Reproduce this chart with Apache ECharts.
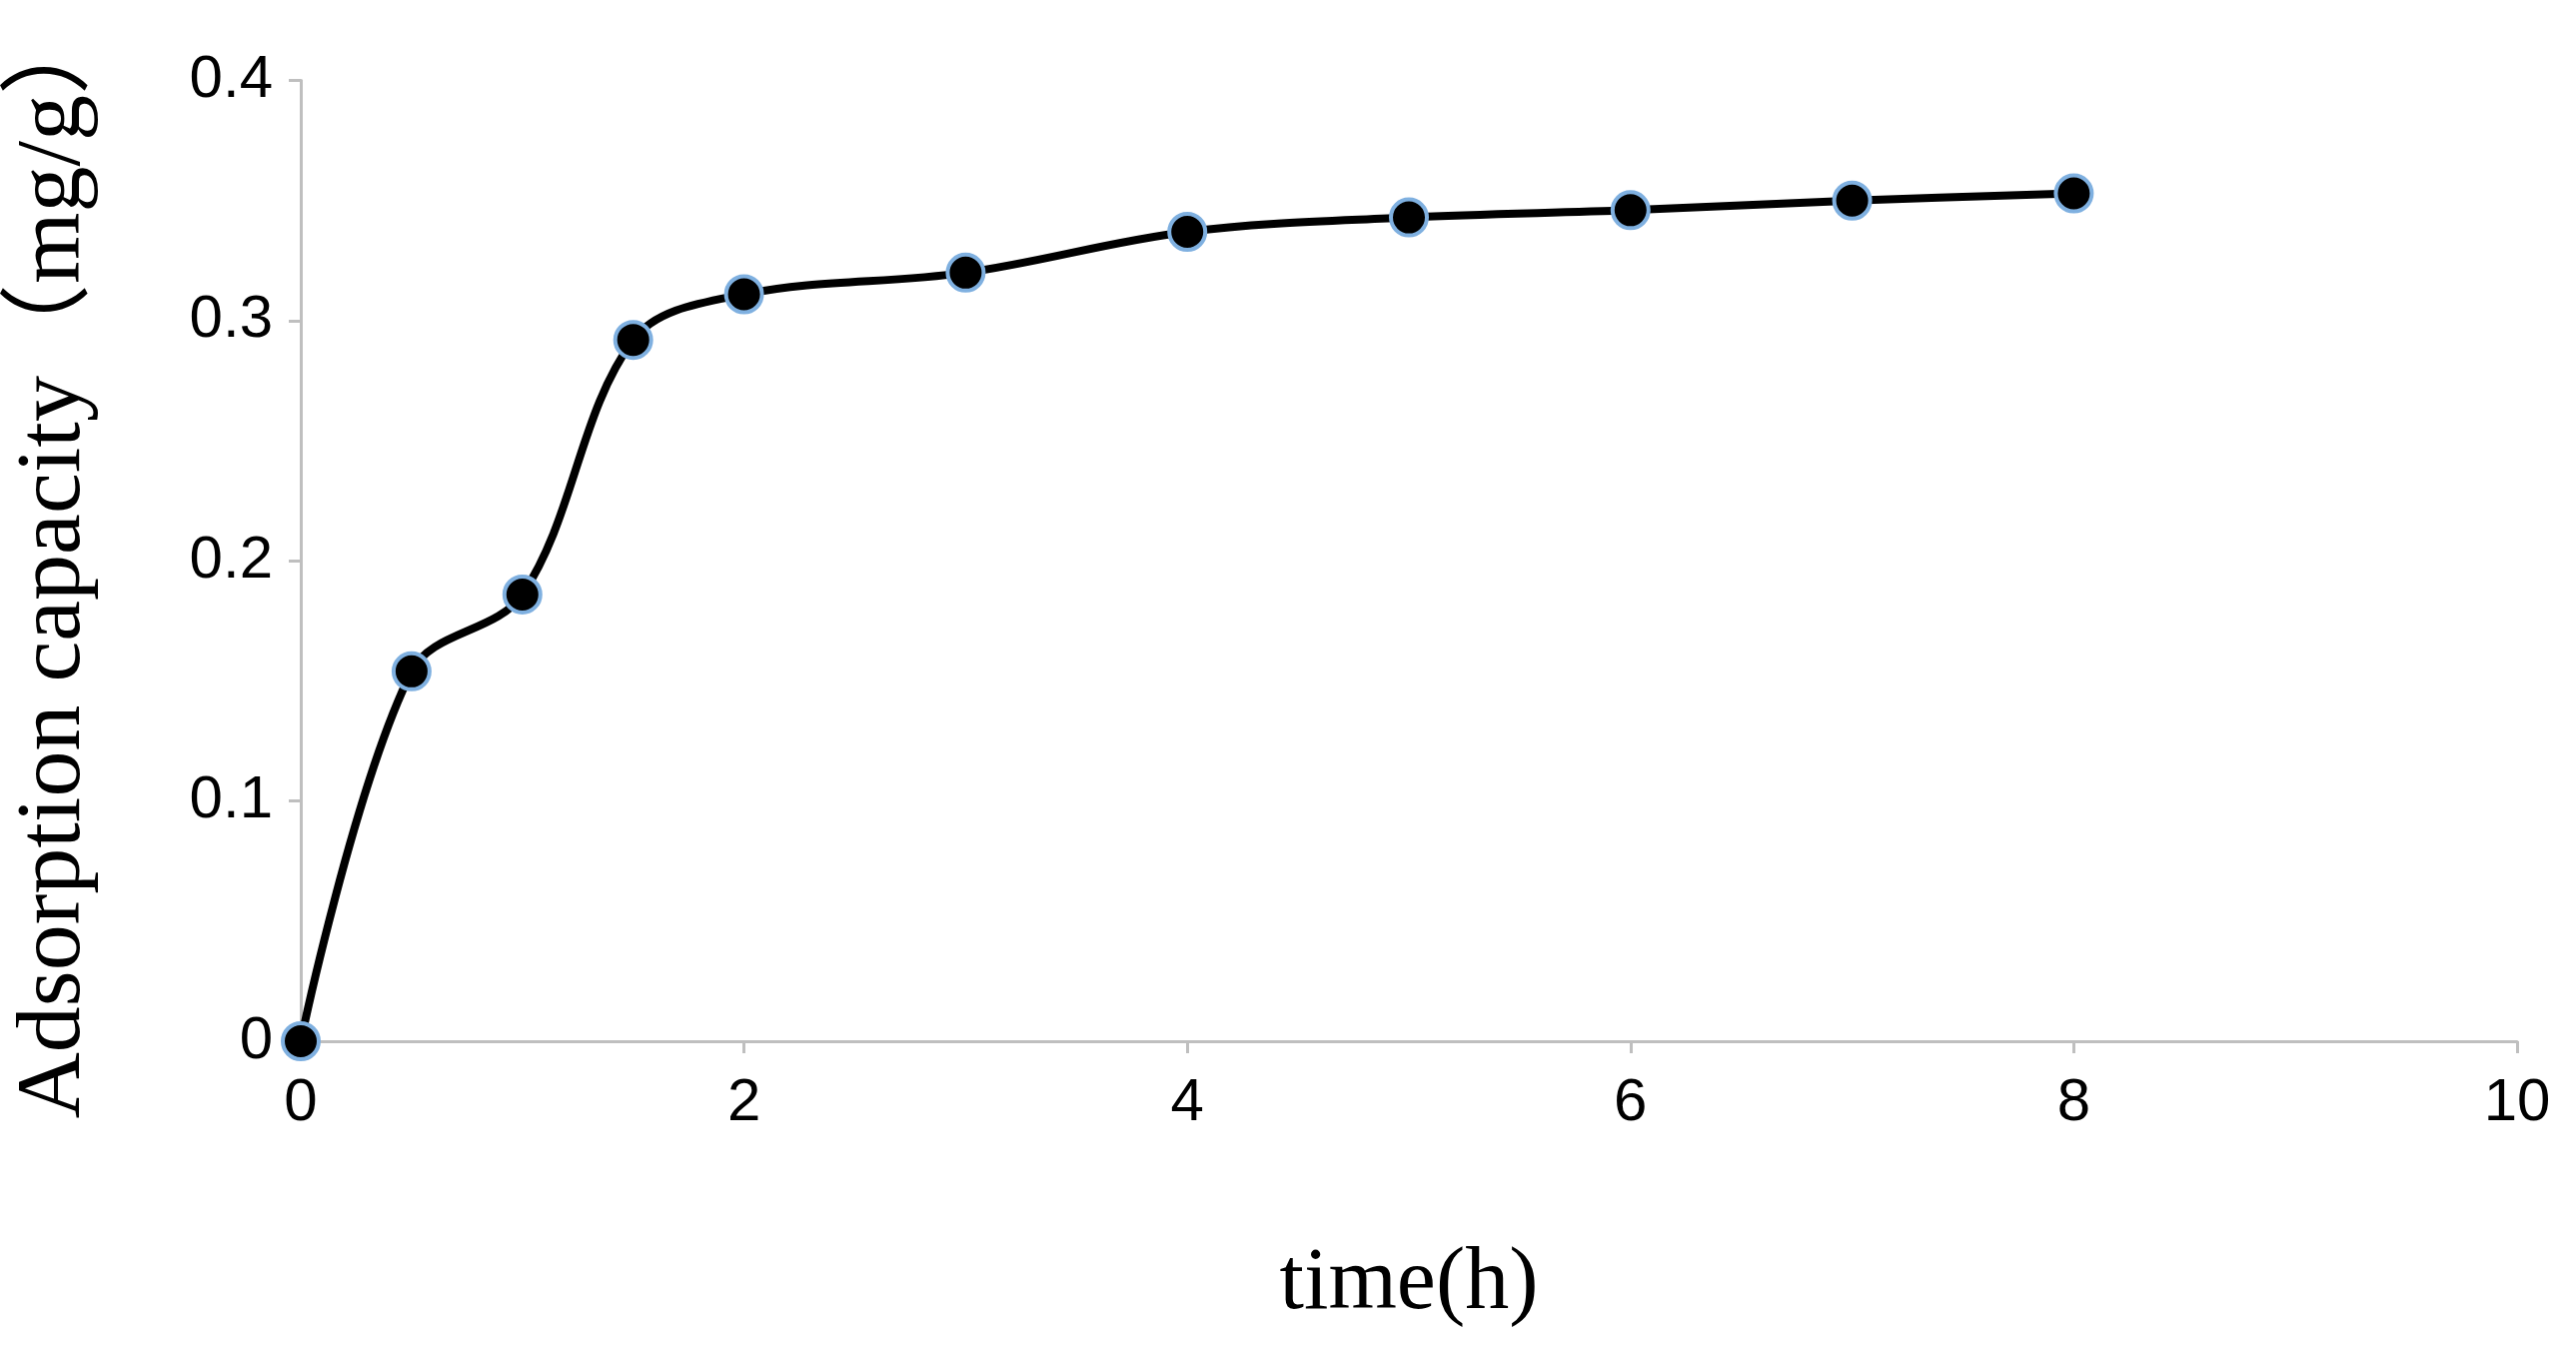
<!DOCTYPE html>
<html>
<head>
<meta charset="utf-8">
<script src="https://cdn.jsdelivr.net/npm/echarts@6/dist/echarts.min.js"></script>
<style>html,body{margin:0;padding:0;background:#fff}#main{width:2578px;height:1348px}</style>
</head>
<body>
<div id="main"></div>
<script>
// time (h) and adsorption capacity (mg/g)
var times = [0, 0.5, 1, 1.5, 2, 3, 4, 5, 6, 7, 8];
var capacity = [0, 0.154, 0.186, 0.292, 0.311, 0.320, 0.337, 0.343, 0.346, 0.350, 0.353];

var chart = echarts.init(document.getElementById('main'));
chart.setOption({
    animation: false,
    grid: {left: 301, right: 59, top: 51, bottom: 306},
    xAxis: {
        type: 'value', min: 0, max: 10, interval: 2,
        name: 'time(h)', nameLocation: 'middle', nameGap: 200,
        nameTextStyle: {fontFamily: 'Liberation Serif', fontSize: 88, color: '#000'},
        axisLine: {lineStyle: {color: '#bfbfbf', width: 3}},
        axisTick: {show: true, length: 12, lineStyle: {color: '#bfbfbf', width: 3}},
        axisLabel: {fontFamily: 'Liberation Sans', fontSize: 60, color: '#000', margin: 32},
        splitLine: {show: false}
    },
    yAxis: {
        type: 'value', min: 0, max: 0.4, interval: 0.1,
        name: 'Adsorption capacity（mg/g）', nameLocation: 'middle', nameGap: 200,
        nameTextStyle: {fontFamily: 'Liberation Serif, Noto Sans CJK SC', fontSize: 92, color: '#000'},
        axisLine: {show: true, lineStyle: {color: '#bfbfbf', width: 3}},
        axisTick: {show: true, length: 12, lineStyle: {color: '#bfbfbf', width: 3}},
        axisLabel: {fontFamily: 'Liberation Sans', fontSize: 60, color: '#000', margin: 28,
            formatter: function (v) { return v === 0 ? '0' : v.toFixed(1); }},
        splitLine: {show: false}
    },
    series: [{
        type: 'line',
        data: times.map(function (t, i) { return [t, capacity[i]]; }),
        smooth: 0.35,
        symbol: 'circle',
        symbolSize: 36,
        lineStyle: {color: '#000', width: 8},
        itemStyle: {color: '#000', borderColor: '#7fb0e0', borderWidth: 4}
    }]
});
</script>
</body>
</html>
